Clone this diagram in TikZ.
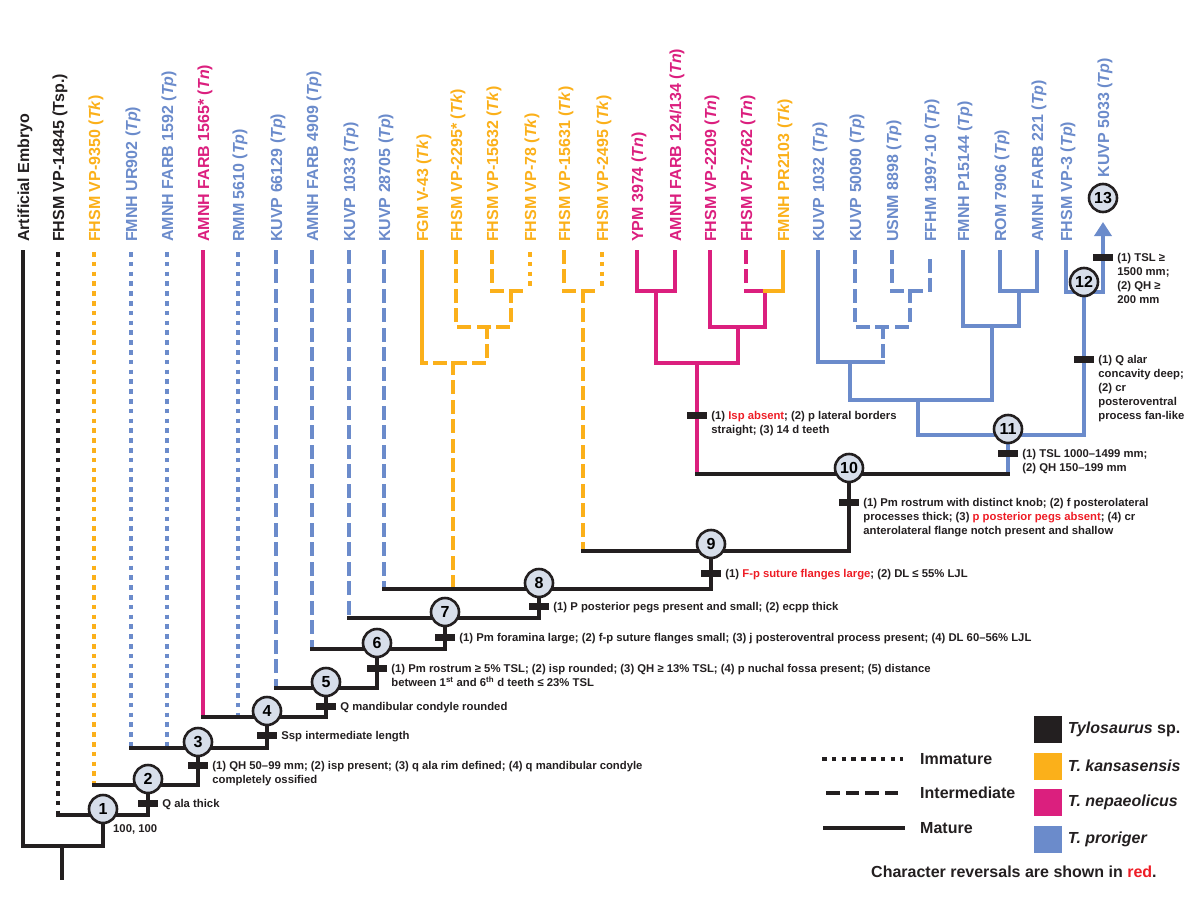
\documentclass[tikz,border=0pt]{standalone}
\usepackage{fontspec}
\setmainfont{Liberation Sans}
\usepackage{xcolor}
\usepackage{tikz}
\usetikzlibrary{arrows.meta}

\definecolor{tsc}{HTML}{231F20}
\definecolor{tkc}{HTML}{FBB01A}
\definecolor{tnc}{HTML}{DB1F7E}
\definecolor{tpc}{HTML}{6B8BCB}
\definecolor{cfill}{HTML}{D7DEEA}
\definecolor{revred}{HTML}{EE1C25}

\begin{document}
\begin{tikzpicture}[x=1pt, y=-1pt,
    br/.style={line width=4.5pt, line cap=rect},
    imm/.style={line cap=butt, dash pattern=on 4.5pt off 5.3pt},
    interm/.style={dash pattern=on 9.5pt off 10pt},
    tiplab/.style={rotate=90, anchor=west, inner sep=0pt, font=\fontsize{16}{16}\selectfont\bfseries},
    clade/.style={circle, draw=tsc, line width=2.6pt, fill=cfill, minimum size=28pt, inner sep=0pt, font=\fontsize{16}{16}\selectfont\bfseries},
    syn/.style={fill=tsc, minimum width=20pt, minimum height=7pt, inner sep=0pt},
    note/.style={anchor=north west, inner sep=0pt, align=left, text=tsc, font=\fontsize{11.3}{14}\selectfont\bfseries},
    lgl/.style={line width=4pt, line cap=rect, tsc},
    lgtext/.style={anchor=west, inner sep=0pt, text=tsc, font=\fontsize{16}{16}\selectfont\bfseries},
    sq/.style={minimum width=28pt, minimum height=27pt, inner sep=0pt},
  ]
    \useasboundingbox (0,0) rectangle (1200,905);

    % tips
    \coordinate (a1) at (23,252);
    \coordinate (a2) at (58,252);
    \coordinate (a3) at (94,252);
    \coordinate (a4) at (131,252);
    \coordinate (a5) at (167,252);
    \coordinate (a6) at (203,252);
    \coordinate (a7) at (238,252);
    \coordinate (a8) at (276,252);
    \coordinate (a9) at (312,252);
    \coordinate (a10) at (349,252);
    \coordinate (a11) at (384,252);
    \coordinate (a12) at (422,252);
    \coordinate (a13) at (456,252);
    \coordinate (a14) at (492,252);
    \coordinate (a15) at (530,252);
    \coordinate (a16) at (564,252);
    \coordinate (a17) at (602,252);
    \coordinate (a18) at (637,252);
    \coordinate (a19) at (675,252);
    \coordinate (a20) at (710,252);
    \coordinate (a21) at (746,252);
    \coordinate (a22) at (783,252);
    \coordinate (a23) at (818,252);
    \coordinate (a24) at (855,252);
    \coordinate (a25) at (892,252);
    \coordinate (a26) at (930,252);
    \coordinate (a27) at (963,252);
    \coordinate (a28) at (1000,252);
    \coordinate (a29) at (1037,252);
    \coordinate (a30) at (1066,252);
    \coordinate (a31) at (1103,292);
    \coordinate (atip) at (1103,222);

    % backbone junctions
    \coordinate (r0) at (62,878);
    \coordinate (r1) at (62,846);
    \coordinate (j1) at (103,815);
    \coordinate (j2) at (148,785);
    \coordinate (j3) at (198,748);
    \coordinate (j4) at (267,717);
    \coordinate (j5) at (326,688);
    \coordinate (j6) at (377,649);
    \coordinate (j7) at (445,618);
    \coordinate (j8) at (539,589);
    \coordinate (j9) at (711,551);
    \coordinate (j10) at (849,474);
    \coordinate (j11) at (1008,435);
    \coordinate (j12) at (1084,292);

    % clade junctions
    \coordinate (o1) at (453,363);
    \coordinate (o2) at (487,327);
    \coordinate (o3) at (511,291);
    \coordinate (o4) at (583,291);
    \coordinate (p0) at (697,363);
    \coordinate (p1) at (656,291);
    \coordinate (p2) at (765,291);
    \coordinate (p3) at (738,327);
    \coordinate (q0) at (918,400);
    \coordinate (q1) at (850,362);
    \coordinate (q2) at (883,327);
    \coordinate (q3) at (910,291);
    \coordinate (s1) at (992,326);
    \coordinate (s2) at (1019,291);

    % tip labels
    \node[tiplab, text=tsc] (l1) at ([xshift=2pt,yshift=10pt]a1) {Artificial Embryo};
    \node[tiplab, text=tsc] (l2) at ([xshift=2pt,yshift=10pt]a2) {FHSM VP-14845 (Tsp.)};
    \node[tiplab, text=tkc] (l3) at ([xshift=2pt,yshift=10pt]a3) {FHSM VP-9350 (\textit{Tk})};
    \node[tiplab, text=tpc] (l4) at ([xshift=2pt,yshift=10pt]a4) {FMNH UR902 (\textit{Tp})};
    \node[tiplab, text=tpc] (l5) at ([xshift=2pt,yshift=10pt]a5) {AMNH FARB 1592 (\textit{Tp})};
    \node[tiplab, text=tnc] (l6) at ([xshift=2pt,yshift=10pt]a6) {AMNH FARB 1565* (\textit{Tn})};
    \node[tiplab, text=tpc] (l7) at ([xshift=2pt,yshift=10pt]a7) {RMM 5610 (\textit{Tp})};
    \node[tiplab, text=tpc] (l8) at ([xshift=2pt,yshift=10pt]a8) {KUVP 66129 (\textit{Tp})};
    \node[tiplab, text=tpc] (l9) at ([xshift=2pt,yshift=10pt]a9) {AMNH FARB 4909 (\textit{Tp})};
    \node[tiplab, text=tpc] (l10) at ([xshift=2pt,yshift=10pt]a10) {KUVP 1033 (\textit{Tp})};
    \node[tiplab, text=tpc] (l11) at ([xshift=2pt,yshift=10pt]a11) {KUVP 28705 (\textit{Tp})};
    \node[tiplab, text=tkc] (l12) at ([xshift=2pt,yshift=10pt]a12) {FGM V-43 (\textit{Tk})};
    \node[tiplab, text=tkc] (l13) at ([xshift=2pt,yshift=10pt]a13) {FHSM VP-2295* (\textit{Tk})};
    \node[tiplab, text=tkc] (l14) at ([xshift=2pt,yshift=10pt]a14) {FHSM VP-15632 (\textit{Tk})};
    \node[tiplab, text=tkc] (l15) at ([xshift=2pt,yshift=10pt]a15) {FHSM VP-78 (\textit{Tk})};
    \node[tiplab, text=tkc] (l16) at ([xshift=2pt,yshift=10pt]a16) {FHSM VP-15631 (\textit{Tk})};
    \node[tiplab, text=tkc] (l17) at ([xshift=2pt,yshift=10pt]a17) {FHSM VP-2495 (\textit{Tk})};
    \node[tiplab, text=tnc] (l18) at ([xshift=2pt,yshift=10pt]a18) {YPM 3974 (\textit{Tn})};
    \node[tiplab, text=tnc] (l19) at ([xshift=2pt,yshift=10pt]a19) {AMNH FARB 124/134 (\textit{Tn})};
    \node[tiplab, text=tnc] (l20) at ([xshift=2pt,yshift=10pt]a20) {FHSM VP-2209 (\textit{Tn})};
    \node[tiplab, text=tnc] (l21) at ([xshift=2pt,yshift=10pt]a21) {FHSM VP-7262 (\textit{Tn})};
    \node[tiplab, text=tkc] (l22) at ([xshift=2pt,yshift=10pt]a22) {FMNH PR2103 (\textit{Tk})};
    \node[tiplab, text=tpc] (l23) at ([xshift=2pt,yshift=10pt]a23) {KUVP 1032 (\textit{Tp})};
    \node[tiplab, text=tpc] (l24) at ([xshift=2pt,yshift=10pt]a24) {KUVP 50090 (\textit{Tp})};
    \node[tiplab, text=tpc] (l25) at ([xshift=2pt,yshift=10pt]a25) {USNM 8898 (\textit{Tp})};
    \node[tiplab, text=tpc] (l26) at ([xshift=2pt,yshift=10pt]a26) {FFHM 1997-10 (\textit{Tp})};
    \node[tiplab, text=tpc] (l27) at ([xshift=2pt,yshift=10pt]a27) {FMNH P15144 (\textit{Tp})};
    \node[tiplab, text=tpc] (l28) at ([xshift=2pt,yshift=10pt]a28) {ROM 7906 (\textit{Tp})};
    \node[tiplab, text=tpc] (l29) at ([xshift=2pt,yshift=10pt]a29) {AMNH FARB 221 (\textit{Tp})};
    \node[tiplab, text=tpc] (l30) at ([xshift=2pt,yshift=10pt]a30) {FHSM VP-3 (\textit{Tp})};

    % tip branches
    \draw[br, tsc, imm] (a2) -- (a2 |- j1);
    \draw[br, tkc, imm] (a3) -- (a3 |- j2);
    \draw[br, tpc, imm] (a4) -- (a4 |- j3);
    \draw[br, tpc, imm] (a5) -- (a5 |- j3);
    \draw[br, tnc] (a6) -- (a6 |- j4);
    \draw[br, tpc, imm] (a7) -- (a7 |- j4);
    \draw[br, tpc, interm] (a8) -- (a8 |- j5);
    \draw[br, tpc, interm] (a9) -- (a9 |- j6);
    \draw[br, tpc, interm] (a10) -- (a10 |- j7);
    \draw[br, tpc, interm] (a11) -- (a11 |- j8);

    % T. kansasensis clades
    \draw[br, tkc] (a12) -- (a12 |- o1);
    \draw[br, tkc, interm] (a13) -- (a13 |- o2);
    \draw[br, tkc, interm] (a14) -- (a14 |- o3);
    \draw[br, tkc, imm] (a15) -- (a15 |- o3);
    \draw[br, tkc, interm] (a14 |- o3) -- (a15 |- o3);
    \draw[br, tkc, interm] (o3) |- (a13 |- o2);
    \draw[br, tkc, interm] (o2) |- (a12 |- o1);
    \draw[br, tkc, interm] (o1) -- (o1 |- j8);
    \draw[br, tkc, interm] (a16) -- (a16 |- o4);
    \draw[br, tkc, imm] (a17) -- (a17 |- o4);
    \draw[br, tkc, interm] (a16 |- o4) -- (a17 |- o4);
    \draw[br, tkc, interm] (o4) -- (o4 |- j9);

    % T. nepaeolicus clade
    \draw[br, tnc] (a18) |- (a19 |- p1) -- (a19);
    \draw[br, tnc] (p1) |- (p3 |- p0) -- (p3);
    \draw[br, tnc] (a20) |- (p2 |- p3) -- (p2);
    \draw[br, tnc, interm] (a21) -- (a21 |- p2);
    \draw[br, tnc] (a21 |- p2) -- (p2);
    \draw[br, tkc] (a22) |- (p2);
    \draw[br, tnc] (p0) -- (p0 |- j10);

    % T. proriger clade
    \draw[br, tpc] (a23) |- (q2 |- q1);
    \draw[br, tpc, interm] (a24) |- (q3 |- q2);
    \draw[br, tpc, interm] (a25) |- (a26 |- q3) -- (a26);
    \draw[br, tpc, interm] (q3) -- (q3 |- q2);
    \draw[br, tpc, interm] (q2) -- (q2 |- q1);
    \draw[br, tpc] (q1) |- (s1 |- q0) -- (s1);
    \draw[br, tpc] (a27) |- (s2 |- s1) -- (s2);
    \draw[br, tpc] (a28) |- (a29 |- s2) -- (a29);
    \draw[br, tpc] (q0) |- (j12 |- j11) -- (j12);
    \draw[br, tpc] (j11 |- j10) -- (j11);
    \draw[br, tpc] (a30) |- (a31);
    \draw[br, tpc, -{Triangle[length=14pt, width=17pt]}] (a31) -- (atip);

    % backbone
    \draw[br, tsc] (r0) -- (r1);
    \draw[br, tsc] (a1) |- (j1 |- r1) -- (j1);
    \draw[br, tsc] (a2 |- j1) -| (j2);
    \draw[br, tsc] (a3 |- j2) -| (j3);
    \draw[br, tsc] (a4 |- j3) -| (j4);
    \draw[br, tsc] (a6 |- j4) -| (j5);
    \draw[br, tsc] (a8 |- j5) -| (j6);
    \draw[br, tsc] (a9 |- j6) -| (j7);
    \draw[br, tsc] (a10 |- j7) -| (j8);
    \draw[br, tsc] (a11 |- j8) -| (j9);
    \draw[br, tsc] (o4 |- j9) -| (j10);
    \draw[br, tsc] (p0 |- j10) -- (j11 |- j10);

    % character bars
    \node[syn] (k1) at (148,803) {};
    \node[syn] (k2) at (198,765) {};
    \node[syn] (k3) at (267,735) {};
    \node[syn] (k4) at (326,706) {};
    \node[syn] (k5) at (377,668) {};
    \node[syn] (k6) at (445,637) {};
    \node[syn] (k7) at (539,606) {};
    \node[syn] (k8) at (711,573) {};
    \node[syn] (k9) at (849,502) {};
    \node[syn] (kn) at (697,415) {};
    \node[syn] (k10) at (1008,453) {};
    \node[syn] (k11) at (1084,359) {};
    \node[syn] (k12) at (1103,257) {};

    \node[note] (c1) at ([xshift=4pt,yshift=4.3pt]k1.east) {Q ala thick};
    \node[note] (c2) at ([xshift=4pt,yshift=4.3pt]k2.east) {(1) QH 50--99 mm; (2) isp present; (3) q ala rim defined; (4) q mandibular condyle\\completely ossified};
    \node[note] (c3) at ([xshift=4pt,yshift=4.3pt]k3.east) {Ssp intermediate length};
    \node[note] (c4) at ([xshift=4pt,yshift=4.3pt]k4.east) {Q mandibular condyle rounded};
    \node[note] (c5) at ([xshift=4pt,yshift=4.3pt]k5.east) {(1) Pm rostrum ≥ 5\% TSL; (2) isp rounded; (3) QH ≥ 13\% TSL; (4) p nuchal fossa present; (5) distance\\between 1\textsuperscript{st} and 6\textsuperscript{th} d teeth ≤ 23\% TSL};
    \node[note] (c6) at ([xshift=4pt,yshift=4.3pt]k6.east) {(1) Pm foramina large; (2) f-p suture flanges small; (3) j posteroventral process present; (4) DL 60--56\% LJL};
    \node[note] (c7) at ([xshift=4pt,yshift=4.3pt]k7.east) {(1) P posterior pegs present and small; (2) ecpp thick};
    \node[note] (c8) at ([xshift=4pt,yshift=4.3pt]k8.east) {(1) \textcolor{revred}{F-p suture flanges large}; (2) DL ≤ 55\% LJL};
    \node[note] (c9) at ([xshift=4pt,yshift=4.3pt]k9.east) {(1) Pm rostrum with distinct knob; (2) f posterolateral\\processes thick; (3) \textcolor{revred}{p posterior pegs absent}; (4) cr\\anterolateral flange notch present and shallow};
    \node[note] (cn) at ([xshift=4pt,yshift=4.3pt]kn.east) {(1) \textcolor{revred}{Isp absent}; (2) p lateral borders\\straight; (3) 14 d teeth};
    \node[note] (c10) at ([xshift=4pt,yshift=4.3pt]k10.east) {(1) TSL 1000--1499 mm;\\(2) QH 150--199 mm};
    \node[note] (c11) at ([xshift=4pt,yshift=4.3pt]k11.east) {(1) Q alar\\concavity deep;\\(2) cr\\posteroventral\\process fan-like};
    \node[note] (c12) at ([xshift=4pt,yshift=4.3pt]k12.east) {(1) TSL ≥\\1500 mm;\\(2) QH ≥\\200 mm};

    % numbered clades
    \node[clade] (n1) at ([yshift=6pt]j1) {1};
    \node[clade] (n2) at ([yshift=6pt]j2) {2};
    \node[clade] (n3) at ([yshift=6pt]j3) {3};
    \node[clade] (n4) at ([yshift=6pt]j4) {4};
    \node[clade] (n5) at ([yshift=6pt]j5) {5};
    \node[clade] (n6) at ([yshift=6pt]j6) {6};
    \node[clade] (n7) at ([yshift=6pt]j7) {7};
    \node[clade] (n8) at ([yshift=6pt]j8) {8};
    \node[clade] (n9) at ([yshift=7pt]j9) {9};
    \node[clade] (n10) at ([yshift=6pt]j10) {10};
    \node[clade] (n11) at ([yshift=6pt]j11) {11};
    \node[clade] (n12) at ([yshift=10pt]j12) {12};
    \node[clade] (n13) at ([yshift=24pt]atip) {13};
    \node[tiplab, text=tpc] (l31) at ([xshift=2pt,yshift=5pt]n13.north) {KUVP 5033 (\textit{Tp})};
    \node[note] (bs) at (113,824) {100, 100};

    % legend
    \coordinate (g1) at (822,759);
    \coordinate (g1e) at (903,759);
    \coordinate (g2) at (828,793);
    \coordinate (g2e) at (903,793);
    \coordinate (g3) at (825,828);
    \coordinate (g3e) at (903,828);
    \draw[lgl, imm] (g1) -- (g1e);
    \draw[lgl, interm] (g2) -- (g2e);
    \draw[lgl] (g3) -- (g3e);
    \node[lgtext] (g1t) at ([xshift=17pt]g1e) {Immature};
    \node[lgtext] (g2t) at ([xshift=17pt]g2e) {Intermediate};
    \node[lgtext] (g3t) at ([xshift=17pt]g3e) {Mature};

    \node[sq, fill=tsc] (s1k) at (1047.5,729) {};
    \node[sq, fill=tkc] (s2k) at (1047.5,766) {};
    \node[sq, fill=tnc] (s3k) at (1047.5,802) {};
    \node[sq, fill=tpc] (s4k) at (1047.5,839) {};
    \node[lgtext] (s1t) at ([xshift=6pt]s1k.east) {\textit{Tylosaurus} sp.};
    \node[lgtext] (s2t) at ([xshift=6pt]s2k.east) {\textit{T. kansasensis}};
    \node[lgtext] (s3t) at ([xshift=6pt]s3k.east) {\textit{T. nepaeolicus}};
    \node[lgtext] (s4t) at ([xshift=6pt]s4k.east) {\textit{T. proriger}};

    \node[lgtext] (rev) at (871,872) {Character reversals are shown in \textcolor{revred}{red}.};
\end{tikzpicture}
\end{document}
